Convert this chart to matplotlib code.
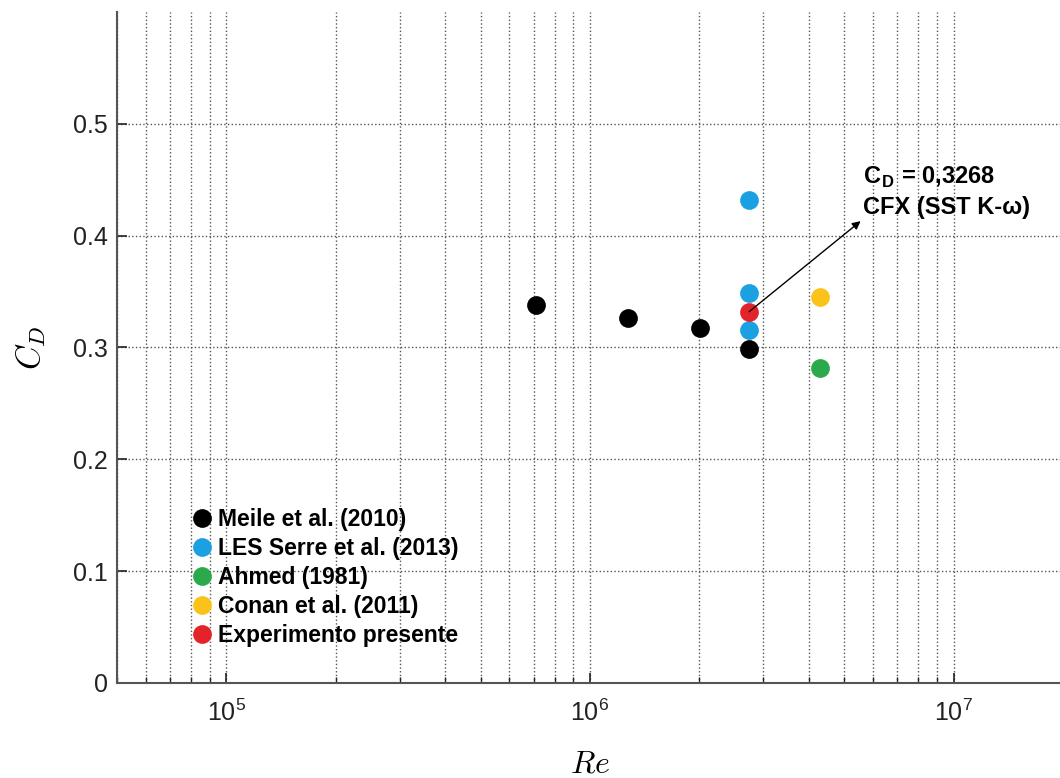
import numpy as np
import matplotlib.pyplot as plt

plt.rcParams['font.family'] = ['Liberation Sans', 'DejaVu Sans']
plt.rcParams['mathtext.fontset'] = 'cm'

# Datos (Re, C_D)
meile_re = [7.1e5, 1.27e6, 2.01e6, 2.74e6]
meile_cd = [0.338, 0.326, 0.317, 0.299]
serre_re = [2.74e6, 2.74e6, 2.74e6]
serre_cd = [0.432, 0.349, 0.316]
ahmed_re = [4.3e6]
ahmed_cd = [0.282]
conan_re = [4.3e6]
conan_cd = [0.345]
exp_re = [2.74e6]
exp_cd = [0.332]

series = [
    (meile_re, meile_cd, '#000000', 'Meile et al. (2010)'),
    (serre_re, serre_cd, '#1ba1e2', 'LES Serre et al. (2013)'),
    (ahmed_re, ahmed_cd, '#2aaa4a', 'Ahmed (1981)'),
    (conan_re, conan_cd, '#fbc31a', 'Conan et al. (2011)'),
    (exp_re, exp_cd, '#e4222a', 'Experimento presente'),
]

fig = plt.figure(figsize=(10.6, 7.78), dpi=100)
ax = fig.add_axes([117/1060, 95/778, 946/1060, 671/778])

for re, cd, col, lab in series:
    ax.plot(re, cd, 'o', color=col, markersize=13.5, markeredgewidth=0,
            label=lab, zorder=3)

ax.set_xscale('log')
ax.set_xlim(5e4, 2e7)
ax.set_ylim(0, 0.6)
ax.set_yticks([0, 0.1, 0.2, 0.3, 0.4, 0.5])
ax.set_yticklabels(['0', '0.1', '0.2', '0.3', '0.4', '0.5'])

ax.grid(True, which='major', linestyle=':', color='#555555', linewidth=1.0)
ax.grid(True, which='minor', axis='x', linestyle=':', color='#555555', linewidth=1.0)

for s in ['top', 'right']:
    ax.spines[s].set_visible(False)
for s in ['left', 'bottom']:
    ax.spines[s].set_color('#555555')
    ax.spines[s].set_linewidth(1.5)

ax.tick_params(which='both', direction='in', colors='#222222', labelsize=18)
ax.tick_params(which='major', length=7, width=1.2)
ax.tick_params(which='minor', length=4, width=1.0)
ax.tick_params(axis='y', which='major', pad=6.5)
ax.tick_params(axis='x', which='major', pad=12)

ax.set_xlabel(r'$Re$', fontsize=23, labelpad=17)
ax.set_ylabel(r'$C_D$', fontsize=24, labelpad=18)

ax.annotate('', xy=(5.55e6, 0.413), xytext=(exp_re[0], exp_cd[0]),
            arrowprops=dict(arrowstyle='-|>', color='black', lw=1.0,
                            mutation_scale=12, shrinkA=0, shrinkB=0),
            zorder=4)
ax.text(5.65e6, 0.463, r'C$_\mathregular{D}$ = 0,3268' + '\nCFX (SST K-\u03c9)',
        fontsize=17, fontweight='bold', ha='left', va='top',
        linespacing=1.3)

leg = ax.legend(loc='upper left', bbox_to_anchor=(0.07, 0.275), frameon=False,
                handletextpad=0.3, handlelength=0.8, labelspacing=0.27,
                borderaxespad=0, prop={'weight': 'bold', 'size': 16.5})

fig.savefig('out.png', dpi=100)
